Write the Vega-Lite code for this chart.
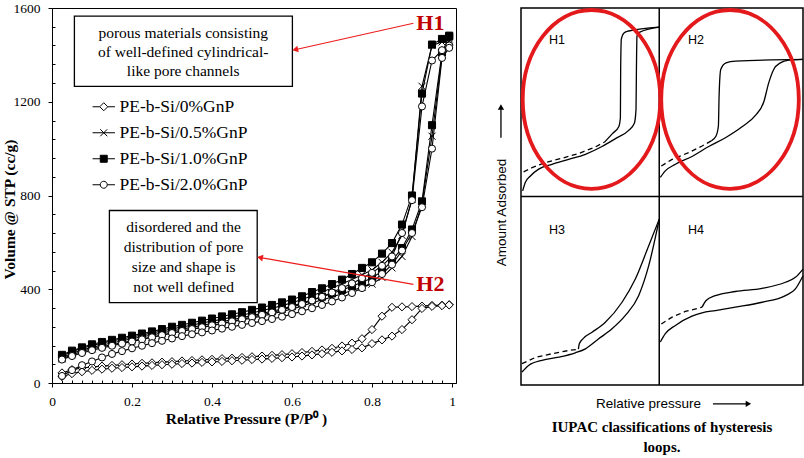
{
"$schema": "https://vega.github.io/schema/vega-lite/v6.json",
"background": "white",
"padding": {"left": 1, "top": 0, "right": 2, "bottom": 0},
"config": {"view": {"stroke": "black", "strokeWidth": 1}},
"spacing": 36,
"hconcat": [
{
"width": 404, "height": 375,
"resolve": {"axis": {"x": "independent", "y": "independent"}, "scale": {"shape": "independent", "fill": "independent"}},
"data": {"values": [
{"s":"0%","b":"d","p":0.025,"v":43},{"s":"0%","b":"d","p":0.05,"v":57},{"s":"0%","b":"d","p":0.075,"v":64},{"s":"0%","b":"d","p":0.1,"v":68},{"s":"0%","b":"d","p":0.125,"v":72},{"s":"0%","b":"d","p":0.15,"v":75},{"s":"0%","b":"d","p":0.175,"v":78},{"s":"0%","b":"d","p":0.2,"v":81},{"s":"0%","b":"d","p":0.225,"v":84},{"s":"0%","b":"d","p":0.25,"v":86},{"s":"0%","b":"d","p":0.275,"v":89},{"s":"0%","b":"d","p":0.3,"v":91},{"s":"0%","b":"d","p":0.325,"v":94},{"s":"0%","b":"d","p":0.35,"v":96},{"s":"0%","b":"d","p":0.375,"v":99},{"s":"0%","b":"d","p":0.4,"v":101},{"s":"0%","b":"d","p":0.425,"v":104},{"s":"0%","b":"d","p":0.45,"v":106},{"s":"0%","b":"d","p":0.475,"v":109},{"s":"0%","b":"d","p":0.5,"v":112},{"s":"0%","b":"d","p":0.525,"v":115},{"s":"0%","b":"d","p":0.55,"v":118},{"s":"0%","b":"d","p":0.575,"v":121},{"s":"0%","b":"d","p":0.6,"v":125},{"s":"0%","b":"d","p":0.625,"v":130},{"s":"0%","b":"d","p":0.65,"v":135},{"s":"0%","b":"d","p":0.675,"v":141},{"s":"0%","b":"d","p":0.7,"v":148},{"s":"0%","b":"d","p":0.725,"v":158},{"s":"0%","b":"d","p":0.75,"v":170},{"s":"0%","b":"d","p":0.775,"v":189},{"s":"0%","b":"d","p":0.8,"v":228},{"s":"0%","b":"d","p":0.825,"v":285},{"s":"0%","b":"d","p":0.85,"v":323},{"s":"0%","b":"d","p":0.875,"v":325},{"s":"0%","b":"d","p":0.9,"v":326},{"s":"0%","b":"d","p":0.925,"v":328},{"s":"0%","b":"d","p":0.95,"v":331},{"s":"0%","b":"d","p":0.975,"v":332},{"s":"0%","b":"d","p":0.993,"v":334},
{"s":"0%","b":"a","p":0.025,"v":28},{"s":"0%","b":"a","p":0.05,"v":40},{"s":"0%","b":"a","p":0.075,"v":48},{"s":"0%","b":"a","p":0.1,"v":54},{"s":"0%","b":"a","p":0.125,"v":59},{"s":"0%","b":"a","p":0.15,"v":63},{"s":"0%","b":"a","p":0.175,"v":66},{"s":"0%","b":"a","p":0.2,"v":69},{"s":"0%","b":"a","p":0.225,"v":72},{"s":"0%","b":"a","p":0.25,"v":75},{"s":"0%","b":"a","p":0.275,"v":78},{"s":"0%","b":"a","p":0.3,"v":80},{"s":"0%","b":"a","p":0.325,"v":83},{"s":"0%","b":"a","p":0.35,"v":85},{"s":"0%","b":"a","p":0.375,"v":88},{"s":"0%","b":"a","p":0.4,"v":90},{"s":"0%","b":"a","p":0.425,"v":92},{"s":"0%","b":"a","p":0.45,"v":95},{"s":"0%","b":"a","p":0.475,"v":97},{"s":"0%","b":"a","p":0.5,"v":100},{"s":"0%","b":"a","p":0.525,"v":102},{"s":"0%","b":"a","p":0.55,"v":105},{"s":"0%","b":"a","p":0.575,"v":108},{"s":"0%","b":"a","p":0.6,"v":111},{"s":"0%","b":"a","p":0.625,"v":115},{"s":"0%","b":"a","p":0.65,"v":120},{"s":"0%","b":"a","p":0.675,"v":125},{"s":"0%","b":"a","p":0.7,"v":131},{"s":"0%","b":"a","p":0.725,"v":137},{"s":"0%","b":"a","p":0.75,"v":143},{"s":"0%","b":"a","p":0.775,"v":150},{"s":"0%","b":"a","p":0.8,"v":168},{"s":"0%","b":"a","p":0.825,"v":184},{"s":"0%","b":"a","p":0.85,"v":200},{"s":"0%","b":"a","p":0.875,"v":228},{"s":"0%","b":"a","p":0.9,"v":270},{"s":"0%","b":"a","p":0.925,"v":318},{"s":"0%","b":"a","p":0.95,"v":327},{"s":"0%","b":"a","p":0.975,"v":330},{"s":"0%","b":"a","p":0.993,"v":333},
{"s":"0.5%","b":"d","p":0.025,"v":115},{"s":"0.5%","b":"d","p":0.05,"v":133},{"s":"0.5%","b":"d","p":0.075,"v":148},{"s":"0.5%","b":"d","p":0.1,"v":160},{"s":"0.5%","b":"d","p":0.125,"v":170},{"s":"0.5%","b":"d","p":0.15,"v":179},{"s":"0.5%","b":"d","p":0.175,"v":188},{"s":"0.5%","b":"d","p":0.2,"v":196},{"s":"0.5%","b":"d","p":0.225,"v":205},{"s":"0.5%","b":"d","p":0.25,"v":214},{"s":"0.5%","b":"d","p":0.275,"v":222},{"s":"0.5%","b":"d","p":0.3,"v":231},{"s":"0.5%","b":"d","p":0.325,"v":239},{"s":"0.5%","b":"d","p":0.35,"v":247},{"s":"0.5%","b":"d","p":0.375,"v":256},{"s":"0.5%","b":"d","p":0.4,"v":264},{"s":"0.5%","b":"d","p":0.425,"v":272},{"s":"0.5%","b":"d","p":0.45,"v":281},{"s":"0.5%","b":"d","p":0.475,"v":290},{"s":"0.5%","b":"d","p":0.5,"v":299},{"s":"0.5%","b":"d","p":0.525,"v":309},{"s":"0.5%","b":"d","p":0.55,"v":319},{"s":"0.5%","b":"d","p":0.575,"v":330},{"s":"0.5%","b":"d","p":0.6,"v":342},{"s":"0.5%","b":"d","p":0.625,"v":356},{"s":"0.5%","b":"d","p":0.65,"v":372},{"s":"0.5%","b":"d","p":0.675,"v":388},{"s":"0.5%","b":"d","p":0.7,"v":405},{"s":"0.5%","b":"d","p":0.725,"v":423},{"s":"0.5%","b":"d","p":0.75,"v":442},{"s":"0.5%","b":"d","p":0.775,"v":462},{"s":"0.5%","b":"d","p":0.8,"v":482},{"s":"0.5%","b":"d","p":0.825,"v":515},{"s":"0.5%","b":"d","p":0.85,"v":558},{"s":"0.5%","b":"d","p":0.875,"v":630},{"s":"0.5%","b":"d","p":0.9,"v":785},{"s":"0.5%","b":"d","p":0.925,"v":1266},{"s":"0.5%","b":"d","p":0.95,"v":1440},{"s":"0.5%","b":"d","p":0.975,"v":1455},{"s":"0.5%","b":"d","p":0.993,"v":1468},
{"s":"0.5%","b":"a","p":0.025,"v":103},{"s":"0.5%","b":"a","p":0.05,"v":121},{"s":"0.5%","b":"a","p":0.075,"v":135},{"s":"0.5%","b":"a","p":0.1,"v":146},{"s":"0.5%","b":"a","p":0.125,"v":155},{"s":"0.5%","b":"a","p":0.15,"v":164},{"s":"0.5%","b":"a","p":0.175,"v":172},{"s":"0.5%","b":"a","p":0.2,"v":180},{"s":"0.5%","b":"a","p":0.225,"v":188},{"s":"0.5%","b":"a","p":0.25,"v":196},{"s":"0.5%","b":"a","p":0.275,"v":205},{"s":"0.5%","b":"a","p":0.3,"v":213},{"s":"0.5%","b":"a","p":0.325,"v":221},{"s":"0.5%","b":"a","p":0.35,"v":229},{"s":"0.5%","b":"a","p":0.375,"v":237},{"s":"0.5%","b":"a","p":0.4,"v":245},{"s":"0.5%","b":"a","p":0.425,"v":253},{"s":"0.5%","b":"a","p":0.45,"v":261},{"s":"0.5%","b":"a","p":0.475,"v":269},{"s":"0.5%","b":"a","p":0.5,"v":277},{"s":"0.5%","b":"a","p":0.525,"v":286},{"s":"0.5%","b":"a","p":0.55,"v":295},{"s":"0.5%","b":"a","p":0.575,"v":305},{"s":"0.5%","b":"a","p":0.6,"v":316},{"s":"0.5%","b":"a","p":0.625,"v":328},{"s":"0.5%","b":"a","p":0.65,"v":342},{"s":"0.5%","b":"a","p":0.675,"v":354},{"s":"0.5%","b":"a","p":0.7,"v":367},{"s":"0.5%","b":"a","p":0.725,"v":381},{"s":"0.5%","b":"a","p":0.75,"v":395},{"s":"0.5%","b":"a","p":0.775,"v":408},{"s":"0.5%","b":"a","p":0.8,"v":422},{"s":"0.5%","b":"a","p":0.825,"v":450},{"s":"0.5%","b":"a","p":0.85,"v":491},{"s":"0.5%","b":"a","p":0.875,"v":540},{"s":"0.5%","b":"a","p":0.9,"v":625},{"s":"0.5%","b":"a","p":0.925,"v":765},{"s":"0.5%","b":"a","p":0.95,"v":1053},{"s":"0.5%","b":"a","p":0.975,"v":1400},{"s":"0.5%","b":"a","p":0.993,"v":1460},
{"s":"1.0%","b":"d","p":0.025,"v":120},{"s":"1.0%","b":"d","p":0.05,"v":138},{"s":"1.0%","b":"d","p":0.075,"v":152},{"s":"1.0%","b":"d","p":0.1,"v":165},{"s":"1.0%","b":"d","p":0.125,"v":175},{"s":"1.0%","b":"d","p":0.15,"v":184},{"s":"1.0%","b":"d","p":0.175,"v":193},{"s":"1.0%","b":"d","p":0.2,"v":202},{"s":"1.0%","b":"d","p":0.225,"v":211},{"s":"1.0%","b":"d","p":0.25,"v":220},{"s":"1.0%","b":"d","p":0.275,"v":230},{"s":"1.0%","b":"d","p":0.3,"v":240},{"s":"1.0%","b":"d","p":0.325,"v":248},{"s":"1.0%","b":"d","p":0.35,"v":257},{"s":"1.0%","b":"d","p":0.375,"v":266},{"s":"1.0%","b":"d","p":0.4,"v":275},{"s":"1.0%","b":"d","p":0.425,"v":284},{"s":"1.0%","b":"d","p":0.45,"v":293},{"s":"1.0%","b":"d","p":0.475,"v":302},{"s":"1.0%","b":"d","p":0.5,"v":312},{"s":"1.0%","b":"d","p":0.525,"v":322},{"s":"1.0%","b":"d","p":0.55,"v":333},{"s":"1.0%","b":"d","p":0.575,"v":344},{"s":"1.0%","b":"d","p":0.6,"v":356},{"s":"1.0%","b":"d","p":0.625,"v":370},{"s":"1.0%","b":"d","p":0.65,"v":388},{"s":"1.0%","b":"d","p":0.675,"v":404},{"s":"1.0%","b":"d","p":0.7,"v":422},{"s":"1.0%","b":"d","p":0.725,"v":441},{"s":"1.0%","b":"d","p":0.75,"v":465},{"s":"1.0%","b":"d","p":0.775,"v":491},{"s":"1.0%","b":"d","p":0.8,"v":515},{"s":"1.0%","b":"d","p":0.825,"v":552},{"s":"1.0%","b":"d","p":0.85,"v":597},{"s":"1.0%","b":"d","p":0.875,"v":676},{"s":"1.0%","b":"d","p":0.9,"v":800},{"s":"1.0%","b":"d","p":0.925,"v":1235},{"s":"1.0%","b":"d","p":0.95,"v":1444},{"s":"1.0%","b":"d","p":0.975,"v":1468},{"s":"1.0%","b":"d","p":0.993,"v":1482},
{"s":"1.0%","b":"a","p":0.025,"v":108},{"s":"1.0%","b":"a","p":0.05,"v":127},{"s":"1.0%","b":"a","p":0.075,"v":141},{"s":"1.0%","b":"a","p":0.1,"v":152},{"s":"1.0%","b":"a","p":0.125,"v":162},{"s":"1.0%","b":"a","p":0.15,"v":171},{"s":"1.0%","b":"a","p":0.175,"v":180},{"s":"1.0%","b":"a","p":0.2,"v":189},{"s":"1.0%","b":"a","p":0.225,"v":197},{"s":"1.0%","b":"a","p":0.25,"v":205},{"s":"1.0%","b":"a","p":0.275,"v":214},{"s":"1.0%","b":"a","p":0.3,"v":222},{"s":"1.0%","b":"a","p":0.325,"v":230},{"s":"1.0%","b":"a","p":0.35,"v":238},{"s":"1.0%","b":"a","p":0.375,"v":246},{"s":"1.0%","b":"a","p":0.4,"v":254},{"s":"1.0%","b":"a","p":0.425,"v":262},{"s":"1.0%","b":"a","p":0.45,"v":270},{"s":"1.0%","b":"a","p":0.475,"v":279},{"s":"1.0%","b":"a","p":0.5,"v":288},{"s":"1.0%","b":"a","p":0.525,"v":297},{"s":"1.0%","b":"a","p":0.55,"v":306},{"s":"1.0%","b":"a","p":0.575,"v":316},{"s":"1.0%","b":"a","p":0.6,"v":328},{"s":"1.0%","b":"a","p":0.625,"v":341},{"s":"1.0%","b":"a","p":0.65,"v":355},{"s":"1.0%","b":"a","p":0.675,"v":368},{"s":"1.0%","b":"a","p":0.7,"v":382},{"s":"1.0%","b":"a","p":0.725,"v":397},{"s":"1.0%","b":"a","p":0.75,"v":413},{"s":"1.0%","b":"a","p":0.775,"v":430},{"s":"1.0%","b":"a","p":0.8,"v":448},{"s":"1.0%","b":"a","p":0.825,"v":477},{"s":"1.0%","b":"a","p":0.85,"v":522},{"s":"1.0%","b":"a","p":0.875,"v":576},{"s":"1.0%","b":"a","p":0.9,"v":655},{"s":"1.0%","b":"a","p":0.925,"v":775},{"s":"1.0%","b":"a","p":0.95,"v":1100},{"s":"1.0%","b":"a","p":0.975,"v":1410},{"s":"1.0%","b":"a","p":0.993,"v":1478},
{"s":"2.0%","b":"d","p":0.025,"v":100},{"s":"2.0%","b":"d","p":0.05,"v":115},{"s":"2.0%","b":"d","p":0.075,"v":128},{"s":"2.0%","b":"d","p":0.1,"v":140},{"s":"2.0%","b":"d","p":0.125,"v":150},{"s":"2.0%","b":"d","p":0.15,"v":159},{"s":"2.0%","b":"d","p":0.175,"v":168},{"s":"2.0%","b":"d","p":0.2,"v":177},{"s":"2.0%","b":"d","p":0.225,"v":186},{"s":"2.0%","b":"d","p":0.25,"v":195},{"s":"2.0%","b":"d","p":0.275,"v":204},{"s":"2.0%","b":"d","p":0.3,"v":213},{"s":"2.0%","b":"d","p":0.325,"v":222},{"s":"2.0%","b":"d","p":0.35,"v":230},{"s":"2.0%","b":"d","p":0.375,"v":238},{"s":"2.0%","b":"d","p":0.4,"v":246},{"s":"2.0%","b":"d","p":0.425,"v":254},{"s":"2.0%","b":"d","p":0.45,"v":263},{"s":"2.0%","b":"d","p":0.475,"v":272},{"s":"2.0%","b":"d","p":0.5,"v":281},{"s":"2.0%","b":"d","p":0.525,"v":291},{"s":"2.0%","b":"d","p":0.55,"v":301},{"s":"2.0%","b":"d","p":0.575,"v":312},{"s":"2.0%","b":"d","p":0.6,"v":324},{"s":"2.0%","b":"d","p":0.625,"v":337},{"s":"2.0%","b":"d","p":0.65,"v":352},{"s":"2.0%","b":"d","p":0.675,"v":368},{"s":"2.0%","b":"d","p":0.7,"v":386},{"s":"2.0%","b":"d","p":0.725,"v":405},{"s":"2.0%","b":"d","p":0.75,"v":425},{"s":"2.0%","b":"d","p":0.775,"v":447},{"s":"2.0%","b":"d","p":0.8,"v":470},{"s":"2.0%","b":"d","p":0.825,"v":500},{"s":"2.0%","b":"d","p":0.85,"v":540},{"s":"2.0%","b":"d","p":0.875,"v":640},{"s":"2.0%","b":"d","p":0.9,"v":780},{"s":"2.0%","b":"d","p":0.925,"v":1180},{"s":"2.0%","b":"d","p":0.95,"v":1376},{"s":"2.0%","b":"d","p":0.975,"v":1420},{"s":"2.0%","b":"d","p":0.993,"v":1440},
{"s":"2.0%","b":"a","p":0.025,"v":30},{"s":"2.0%","b":"a","p":0.05,"v":55},{"s":"2.0%","b":"a","p":0.075,"v":76},{"s":"2.0%","b":"a","p":0.1,"v":92},{"s":"2.0%","b":"a","p":0.125,"v":109},{"s":"2.0%","b":"a","p":0.15,"v":124},{"s":"2.0%","b":"a","p":0.175,"v":136},{"s":"2.0%","b":"a","p":0.2,"v":148},{"s":"2.0%","b":"a","p":0.225,"v":159},{"s":"2.0%","b":"a","p":0.25,"v":170},{"s":"2.0%","b":"a","p":0.275,"v":180},{"s":"2.0%","b":"a","p":0.3,"v":190},{"s":"2.0%","b":"a","p":0.325,"v":200},{"s":"2.0%","b":"a","p":0.35,"v":208},{"s":"2.0%","b":"a","p":0.375,"v":216},{"s":"2.0%","b":"a","p":0.4,"v":224},{"s":"2.0%","b":"a","p":0.425,"v":232},{"s":"2.0%","b":"a","p":0.45,"v":240},{"s":"2.0%","b":"a","p":0.475,"v":248},{"s":"2.0%","b":"a","p":0.5,"v":256},{"s":"2.0%","b":"a","p":0.525,"v":264},{"s":"2.0%","b":"a","p":0.55,"v":273},{"s":"2.0%","b":"a","p":0.575,"v":283},{"s":"2.0%","b":"a","p":0.6,"v":294},{"s":"2.0%","b":"a","p":0.625,"v":306},{"s":"2.0%","b":"a","p":0.65,"v":319},{"s":"2.0%","b":"a","p":0.675,"v":333},{"s":"2.0%","b":"a","p":0.7,"v":348},{"s":"2.0%","b":"a","p":0.725,"v":365},{"s":"2.0%","b":"a","p":0.75,"v":384},{"s":"2.0%","b":"a","p":0.775,"v":405},{"s":"2.0%","b":"a","p":0.8,"v":430},{"s":"2.0%","b":"a","p":0.825,"v":465},{"s":"2.0%","b":"a","p":0.85,"v":505},{"s":"2.0%","b":"a","p":0.875,"v":565},{"s":"2.0%","b":"a","p":0.9,"v":640},{"s":"2.0%","b":"a","p":0.925,"v":750},{"s":"2.0%","b":"a","p":0.95,"v":1000},{"s":"2.0%","b":"a","p":0.975,"v":1387},{"s":"2.0%","b":"a","p":0.993,"v":1430}
]},
"layer": [
{
"mark": {"type": "line", "color": "black", "strokeWidth": 1.1},
"encoding": {
"x": {"field": "p", "type": "quantitative", "scale": {"domain": [0, 1.01], "nice": false},
"axis": {"orient": "bottom", "title": "Relative Pressure (P/P⁰ )", "titleFont": "Liberation Serif", "titleFontSize": 15.5, "titleFontWeight": "bold", "titleColor": "black", "titlePadding": 4, "titleX": 194,
"labelFont": "Liberation Serif", "labelFontSize": 13.5, "labelColor": "black", "labelPadding": 7, "labelFlush": false, "labelOverlap": false,
"values": [0, 0.2, 0.4, 0.6, 0.8, 1], "format": ".1~f", "tickSize": 4, "tickColor": "black", "domainColor": "black", "grid": false}},
"y": {"field": "v", "type": "quantitative", "scale": {"domain": [0, 1600], "nice": false},
"axis": {"orient": "left", "title": "Volume @ STP (cc/g)", "titleFont": "Liberation Serif", "titleFontSize": 15.5, "titleFontWeight": "bold", "titleColor": "black", "titleX": -43, "titleY": 201, "titleBaseline": "middle", "titleAlign": "center", "titleAngle": -90,
"labelFont": "Liberation Serif", "labelFontSize": 13.5, "labelColor": "black", "labelPadding": 8, "labelFlush": false, "labelOverlap": false,
"values": [0, 400, 800, 1200, 1600], "format": "d", "tickSize": 4, "tickColor": "black", "domainColor": "black", "grid": false}},
"detail": [{"field": "s"}, {"field": "b"}]
}
},
{
"mark": {"type": "point", "stroke": "black", "strokeWidth": 1, "opacity": 1, "size": 50},
"encoding": {
"x": {"field": "p", "type": "quantitative", "scale": {"domain": [0, 1.01], "nice": false},
"axis": {"orient": "bottom", "title": null, "labels": false, "domain": false, "grid": false, "tickSize": -3, "tickColor": "black",
"values": [0.025,0.05,0.075,0.1,0.125,0.15,0.175,0.225,0.25,0.275,0.3,0.325,0.35,0.375,0.425,0.45,0.475,0.5,0.525,0.55,0.575,0.625,0.65,0.675,0.7,0.725,0.75,0.775,0.825,0.85,0.875,0.9,0.925,0.95,0.975]}},
"y": {"field": "v", "type": "quantitative", "scale": {"domain": [0, 1600], "nice": false},
"axis": {"orient": "left", "title": null, "labels": false, "domain": false, "grid": false, "tickSize": -3, "tickColor": "black",
"values": [80,160,240,320,480,560,640,720,880,960,1040,1120,1280,1360,1440,1520]}},
"shape": {"field": "s", "type": "nominal", "legend": null,
"scale": {"domain": ["0%", "0.5%", "1.0%", "2.0%"], "range": ["M0,-1.15L1.15,0L0,1.15L-1.15,0Z", "M-1,-1L1,1M-1,1L1,-1", "M-1,-1H1V1H-1Z", "circle"]}},
"fill": {"field": "s", "type": "nominal", "legend": null,
"scale": {"domain": ["0%", "0.5%", "1.0%", "2.0%"], "range": ["white", "white", "black", "white"]}}
}
},
{
"transform": [{"filter": "false"}],
"mark": {"type": "point", "stroke": "black", "strokeWidth": 1, "opacity": 1, "size": 49},
"encoding": {
"shape": {"field": "s", "type": "nominal",
"scale": {"domain": ["0%", "0.5%", "1.0%", "2.0%"], "range": ["M-3.2,0H-1.15M0,-1.15L1.15,0L0,1.15L-1.15,0ZM1.15,0H3.2", "M-3.2,0H3.2M-1,-1L1,1M-1,1L1,-1", "M-3.2,0H-1M-1,-1H1V1H-1ZM1,0H3.2", "M-3.2,0H-1M1,0H3.2M1,0C1,0.552 0.552,1 0,1C-0.552,1 -1,0.552 -1,0C-1,-0.552 -0.552,-1 0,-1C0.552,-1 1,-0.552 1,0Z"]},
"legend": {"orient": "none", "legendX": 43, "legendY": 90, "title": null, "padding": 0, "rowPadding": 7, "labelOffset": 7,
"labelFont": "Liberation Serif", "labelFontSize": 17.5, "labelColor": "black", "symbolSize": 49,
"labelExpr": "'PE-b-Si/' + datum.label + 'GnP'",
"encoding": {"symbols": {"stroke": {"value": "black"}, "strokeWidth": {"value": 1}, "fill": {"condition": {"test": "datum.value == '1.0%'", "value": "black"}, "value": "white"}}}}}
}
},
{
"data": {"values": [{}]},
"mark": {"type": "rect", "fill": "white", "stroke": "black", "strokeWidth": 1.3},
"encoding": {"x": {"datum": 0.056, "axis": null}, "x2": {"datum": 0.601}, "y": {"datum": 1565, "axis": null}, "y2": {"datum": 1266}}
},
{
"data": {"values": [{}]},
"mark": {"type": "text", "text": ["porous materials consisting", "of well-defined cylindrical-", "like pore channels"], "font": "Liberation Serif", "fontSize": 15.5, "lineHeight": 19, "align": "center", "baseline": "middle", "color": "black"},
"encoding": {"x": {"datum": 0.328, "axis": null}, "y": {"datum": 1492, "axis": null}}
},
{
"data": {"values": [{}]},
"mark": {"type": "rect", "fill": "white", "stroke": "black", "strokeWidth": 1.3},
"encoding": {"x": {"datum": 0.1435, "axis": null}, "x2": {"datum": 0.513}, "y": {"datum": 736, "axis": null}, "y2": {"datum": 343}}
},
{
"data": {"values": [{}]},
"mark": {"type": "text", "text": ["disordered and the", "distribution of pore", "size and shape is", "not well defined"], "font": "Liberation Serif", "fontSize": 15.5, "lineHeight": 20, "align": "center", "baseline": "middle", "color": "black"},
"encoding": {"x": {"datum": 0.329, "axis": null}, "y": {"datum": 664, "axis": null}}
},
{
"data": {"values": [{}]},
"mark": {"type": "rule", "color": "#ee1c1c", "strokeWidth": 1.2},
"encoding": {"x": {"datum": 0.9035, "axis": null}, "x2": {"datum": 0.61}, "y": {"datum": 1535, "axis": null}, "y2": {"datum": 1423}}
},
{
"data": {"values": [{}]},
"mark": {"type": "point", "shape": "triangle-right", "angle": 167, "size": 45, "filled": true, "color": "#ee1c1c", "opacity": 1},
"encoding": {"x": {"datum": 0.608, "axis": null}, "y": {"datum": 1422, "axis": null}}
},
{
"data": {"values": [{}]},
"mark": {"type": "rule", "color": "#ee1c1c", "strokeWidth": 1.2},
"encoding": {"x": {"datum": 0.9035, "axis": null}, "x2": {"datum": 0.522}, "y": {"datum": 421, "axis": null}, "y2": {"datum": 535}}
},
{
"data": {"values": [{}]},
"mark": {"type": "point", "shape": "triangle-right", "angle": 190, "size": 45, "filled": true, "color": "#ee1c1c", "opacity": 1},
"encoding": {"x": {"datum": 0.52, "axis": null}, "y": {"datum": 535, "axis": null}}
},
{
"data": {"values": [{}]},
"mark": {"type": "text", "text": "H1", "font": "Liberation Serif", "fontSize": 22, "fontWeight": "bold", "color": "#c00000", "align": "center", "baseline": "middle"},
"encoding": {"x": {"datum": 0.946, "axis": null}, "y": {"datum": 1535, "axis": null}}
},
{
"data": {"values": [{}]},
"mark": {"type": "text", "text": "H2", "font": "Liberation Serif", "fontSize": 22, "fontWeight": "bold", "color": "#c00000", "align": "center", "baseline": "middle"},
"encoding": {"x": {"datum": 0.946, "axis": null}, "y": {"datum": 421, "axis": null}}
}
]
},
{
"width": 282, "height": 377,
"view": {"stroke": "black", "strokeWidth": 1.5},
"title": {"text": ["IUPAC classifications of hysteresis", "loops."], "orient": "bottom", "font": "Liberation Serif", "fontSize": 15, "fontWeight": "bold", "color": "black", "lineHeight": 20, "offset": 10, "anchor": "middle", "frame": "group"},
"data": {"values": [
{"loop":"H1","b":"ads","x":0.012,"y":1.030},{"loop":"H1","b":"ads","x":0.031,"y":1.074},{"loop":"H1","b":"ads","x":0.068,"y":1.109},{"loop":"H1","b":"ads","x":0.128,"y":1.145},{"loop":"H1","b":"ads","x":0.224,"y":1.171},{"loop":"H1","b":"ads","x":0.345,"y":1.197},{"loop":"H1","b":"ads","x":0.466,"y":1.224},{"loop":"H1","b":"ads","x":0.586,"y":1.265},{"loop":"H1","b":"ads","x":0.683,"y":1.307},{"loop":"H1","b":"ads","x":0.779,"y":1.351},{"loop":"H1","b":"ads","x":0.820,"y":1.388},{"loop":"H1","b":"ads","x":0.832,"y":1.462},{"loop":"H1","b":"ads","x":0.835,"y":1.674},{"loop":"H1","b":"ads","x":0.839,"y":1.850},{"loop":"H1","b":"ads","x":0.856,"y":1.871},{"loop":"H1","b":"ads","x":1.0,"y":1.899},
{"loop":"H1","b":"des","x":1.0,"y":1.899},{"loop":"H1","b":"des","x":0.779,"y":1.878},{"loop":"H1","b":"des","x":0.745,"y":1.868},{"loop":"H1","b":"des","x":0.726,"y":1.836},{"loop":"H1","b":"des","x":0.721,"y":1.674},{"loop":"H1","b":"des","x":0.719,"y":1.418},{"loop":"H1","b":"des","x":0.707,"y":1.370},{"loop":"H1","b":"des","x":0.663,"y":1.335},{"loop":"H1","b":"des","x":0.605,"y":1.289},
{"loop":"H1","b":"dash","x":0.019,"y":1.131},{"loop":"H1","b":"dash","x":0.080,"y":1.153},{"loop":"H1","b":"dash","x":0.176,"y":1.180},{"loop":"H1","b":"dash","x":0.297,"y":1.203},{"loop":"H1","b":"dash","x":0.417,"y":1.228},{"loop":"H1","b":"dash","x":0.538,"y":1.263},{"loop":"H1","b":"dash","x":0.605,"y":1.289},
{"loop":"H2","b":"ads","x":1.008,"y":1.101},{"loop":"H2","b":"ads","x":1.044,"y":1.136},{"loop":"H2","b":"ads","x":1.117,"y":1.171},{"loop":"H2","b":"ads","x":1.237,"y":1.212},{"loop":"H2","b":"ads","x":1.358,"y":1.265},{"loop":"H2","b":"ads","x":1.479,"y":1.312},{"loop":"H2","b":"ads","x":1.599,"y":1.370},{"loop":"H2","b":"ads","x":1.696,"y":1.430},{"loop":"H2","b":"ads","x":1.756,"y":1.501},{"loop":"H2","b":"ads","x":1.792,"y":1.603},{"loop":"H2","b":"ads","x":1.828,"y":1.674},{"loop":"H2","b":"ads","x":1.876,"y":1.709},{"loop":"H2","b":"ads","x":1.937,"y":1.723},{"loop":"H2","b":"ads","x":2.04,"y":1.727},
{"loop":"H2","b":"des","x":2.04,"y":1.727},{"loop":"H2","b":"des","x":1.551,"y":1.718},{"loop":"H2","b":"des","x":1.483,"y":1.709},{"loop":"H2","b":"des","x":1.445,"y":1.674},{"loop":"H2","b":"des","x":1.433,"y":1.533},{"loop":"H2","b":"des","x":1.428,"y":1.374},{"loop":"H2","b":"des","x":1.411,"y":1.321},{"loop":"H2","b":"des","x":1.377,"y":1.295},
{"loop":"H2","b":"dash","x":1.015,"y":1.162},{"loop":"H2","b":"dash","x":1.093,"y":1.197},{"loop":"H2","b":"dash","x":1.213,"y":1.233},{"loop":"H2","b":"dash","x":1.310,"y":1.268},{"loop":"H2","b":"dash","x":1.377,"y":1.295},
{"loop":"H3","b":"ads","x":0.007,"y":0.069},{"loop":"H3","b":"ads","x":0.055,"y":0.104},{"loop":"H3","b":"ads","x":0.152,"y":0.131},{"loop":"H3","b":"ads","x":0.273,"y":0.148},{"loop":"H3","b":"ads","x":0.393,"y":0.171},{"loop":"H3","b":"ads","x":0.466,"y":0.192},{"loop":"H3","b":"ads","x":0.562,"y":0.245},{"loop":"H3","b":"ads","x":0.658,"y":0.298},{"loop":"H3","b":"ads","x":0.755,"y":0.369},{"loop":"H3","b":"ads","x":0.851,"y":0.474},{"loop":"H3","b":"ads","x":0.924,"y":0.633},{"loop":"H3","b":"ads","x":1.0,"y":0.880},
{"loop":"H3","b":"des","x":1.0,"y":0.880},{"loop":"H3","b":"des","x":0.924,"y":0.739},{"loop":"H3","b":"des","x":0.827,"y":0.562},{"loop":"H3","b":"des","x":0.731,"y":0.439},{"loop":"H3","b":"des","x":0.610,"y":0.333},{"loop":"H3","b":"des","x":0.514,"y":0.280},{"loop":"H3","b":"des","x":0.453,"y":0.249},{"loop":"H3","b":"des","x":0.422,"y":0.219},{"loop":"H3","b":"des","x":0.415,"y":0.190},
{"loop":"H3","b":"dash","x":0.007,"y":0.113},{"loop":"H3","b":"dash","x":0.104,"y":0.146},{"loop":"H3","b":"dash","x":0.224,"y":0.166},{"loop":"H3","b":"dash","x":0.345,"y":0.183},{"loop":"H3","b":"dash","x":0.415,"y":0.190},
{"loop":"H4","b":"ads","x":1.008,"y":0.228},{"loop":"H4","b":"ads","x":1.044,"y":0.272},{"loop":"H4","b":"ads","x":1.117,"y":0.316},{"loop":"H4","b":"ads","x":1.237,"y":0.365},{"loop":"H4","b":"ads","x":1.310,"y":0.383},{"loop":"H4","b":"ads","x":1.406,"y":0.395},{"loop":"H4","b":"ads","x":1.551,"y":0.413},{"loop":"H4","b":"ads","x":1.744,"y":0.439},{"loop":"H4","b":"ads","x":1.913,"y":0.474},{"loop":"H4","b":"ads","x":1.985,"y":0.510},{"loop":"H4","b":"ads","x":2.04,"y":0.580},
{"loop":"H4","b":"des","x":2.04,"y":0.615},{"loop":"H4","b":"des","x":1.985,"y":0.571},{"loop":"H4","b":"des","x":1.913,"y":0.545},{"loop":"H4","b":"des","x":1.744,"y":0.513},{"loop":"H4","b":"des","x":1.551,"y":0.496},{"loop":"H4","b":"des","x":1.406,"y":0.474},{"loop":"H4","b":"des","x":1.339,"y":0.448},{"loop":"H4","b":"des","x":1.310,"y":0.413},
{"loop":"H4","b":"dash","x":1.015,"y":0.324},{"loop":"H4","b":"dash","x":1.093,"y":0.360},{"loop":"H4","b":"dash","x":1.189,"y":0.390},{"loop":"H4","b":"dash","x":1.310,"y":0.413}
]},
"layer": [
{
"transform": [{"filter": "datum.b != 'dash'"}],
"mark": {"type": "line", "color": "black", "strokeWidth": 1.3, "interpolate": "monotone"},
"encoding": {
"x": {"field": "x", "type": "quantitative", "scale": {"domain": [0, 2.04], "nice": false, "zero": false},
"axis": {"title": "Relative pressure", "titleFont": "Liberation Sans", "titleFontSize": 13.5, "titleFontWeight": "normal", "titleColor": "black", "labels": false, "ticks": false, "domain": false, "grid": false, "titleX": 127, "titleY": 18, "titleBaseline": "middle", "titleAlign": "center"}},
"y": {"field": "y", "type": "quantitative", "scale": {"domain": [0, 2], "nice": false, "zero": false},
"axis": {"title": "Amount Adsorbed", "titleFont": "Liberation Sans", "titleFontSize": 13.5, "titleFontWeight": "normal", "titleColor": "black", "labels": false, "ticks": false, "domain": false, "grid": false, "titleX": -20, "titleY": 204, "titleBaseline": "middle", "titleAlign": "center", "titleAngle": -90}},
"detail": [{"field": "loop"}, {"field": "b"}]
}
},
{
"transform": [{"filter": "datum.b == 'dash'"}],
"mark": {"type": "line", "color": "black", "strokeWidth": 1.3, "strokeDash": [5, 3.5]},
"encoding": {
"x": {"field": "x", "type": "quantitative"},
"y": {"field": "y", "type": "quantitative"},
"detail": [{"field": "loop"}]
}
},
{
"data": {"values": [{}]},
"mark": {"type": "rule", "color": "black", "strokeWidth": 1.5},
"encoding": {"x": {"datum": 1}, "y": {"datum": 0}, "y2": {"datum": 2}}
},
{
"data": {"values": [{}]},
"mark": {"type": "rule", "color": "black", "strokeWidth": 1.5},
"encoding": {"x": {"datum": 0}, "x2": {"datum": 2.04}, "y": {"datum": 1}}
},
{
"data": {"values": [{}]},
"mark": {"type": "point", "shape": "M0,-1.3C0.5523,-1.3 1,-0.718 1,0C1,0.718 0.5523,1.3 0,1.3C-0.5523,1.3 -1,0.718 -1,0C-1,-0.718 -0.5523,-1.3 0,-1.3Z", "size": 18934, "filled": false, "stroke": "#e3191c", "strokeWidth": 3.8, "opacity": 1},
"encoding": {"x": {"datum": 0.51}, "y": {"datum": 1.515}}
},
{
"data": {"values": [{}]},
"mark": {"type": "point", "shape": "M0,-1.3C0.5523,-1.3 1,-0.718 1,0C1,0.718 0.5523,1.3 0,1.3C-0.5523,1.3 -1,0.718 -1,0C-1,-0.718 -0.5523,-1.3 0,-1.3Z", "size": 18934, "filled": false, "stroke": "#e3191c", "strokeWidth": 3.8, "opacity": 1},
"encoding": {"x": {"datum": 1.512}, "y": {"datum": 1.515}}
},
{
"data": {"values": [{}]},
"mark": {"type": "text", "text": "H1", "font": "Liberation Sans", "fontSize": 12.5, "color": "black", "align": "center", "baseline": "middle"},
"encoding": {"x": {"datum": 0.26}, "y": {"datum": 1.83}}
},
{
"data": {"values": [{}]},
"mark": {"type": "text", "text": "H2", "font": "Liberation Sans", "fontSize": 12.5, "color": "black", "align": "center", "baseline": "middle"},
"encoding": {"x": {"datum": 1.266}, "y": {"datum": 1.83}}
},
{
"data": {"values": [{}]},
"mark": {"type": "text", "text": "H3", "font": "Liberation Sans", "fontSize": 12.5, "color": "black", "align": "center", "baseline": "middle"},
"encoding": {"x": {"datum": 0.26}, "y": {"datum": 0.82}}
},
{
"data": {"values": [{}]},
"mark": {"type": "text", "text": "H4", "font": "Liberation Sans", "fontSize": 12.5, "color": "black", "align": "center", "baseline": "middle"},
"encoding": {"x": {"datum": 1.266}, "y": {"datum": 0.82}}
},
{
"data": {"values": [{}]},
"mark": {"type": "rule", "color": "black", "strokeWidth": 1.3},
"encoding": {"x": {"datum": 1.389}, "x2": {"datum": 1.64}, "y": {"datum": -0.1}}
},
{
"data": {"values": [{}]},
"mark": {"type": "point", "shape": "triangle-right", "size": 40, "filled": true, "color": "black", "opacity": 1},
"encoding": {"x": {"datum": 1.645}, "y": {"datum": -0.1}}
},
{
"data": {"values": [{}]},
"mark": {"type": "rule", "color": "black", "strokeWidth": 1.3},
"encoding": {"x": {"datum": -0.145}, "y": {"datum": 1.312}, "y2": {"datum": 1.47}}
},
{
"data": {"values": [{}]},
"mark": {"type": "point", "shape": "triangle-up", "size": 40, "filled": true, "color": "black", "opacity": 1},
"encoding": {"x": {"datum": -0.145}, "y": {"datum": 1.475}}
}
]
}
]
}
